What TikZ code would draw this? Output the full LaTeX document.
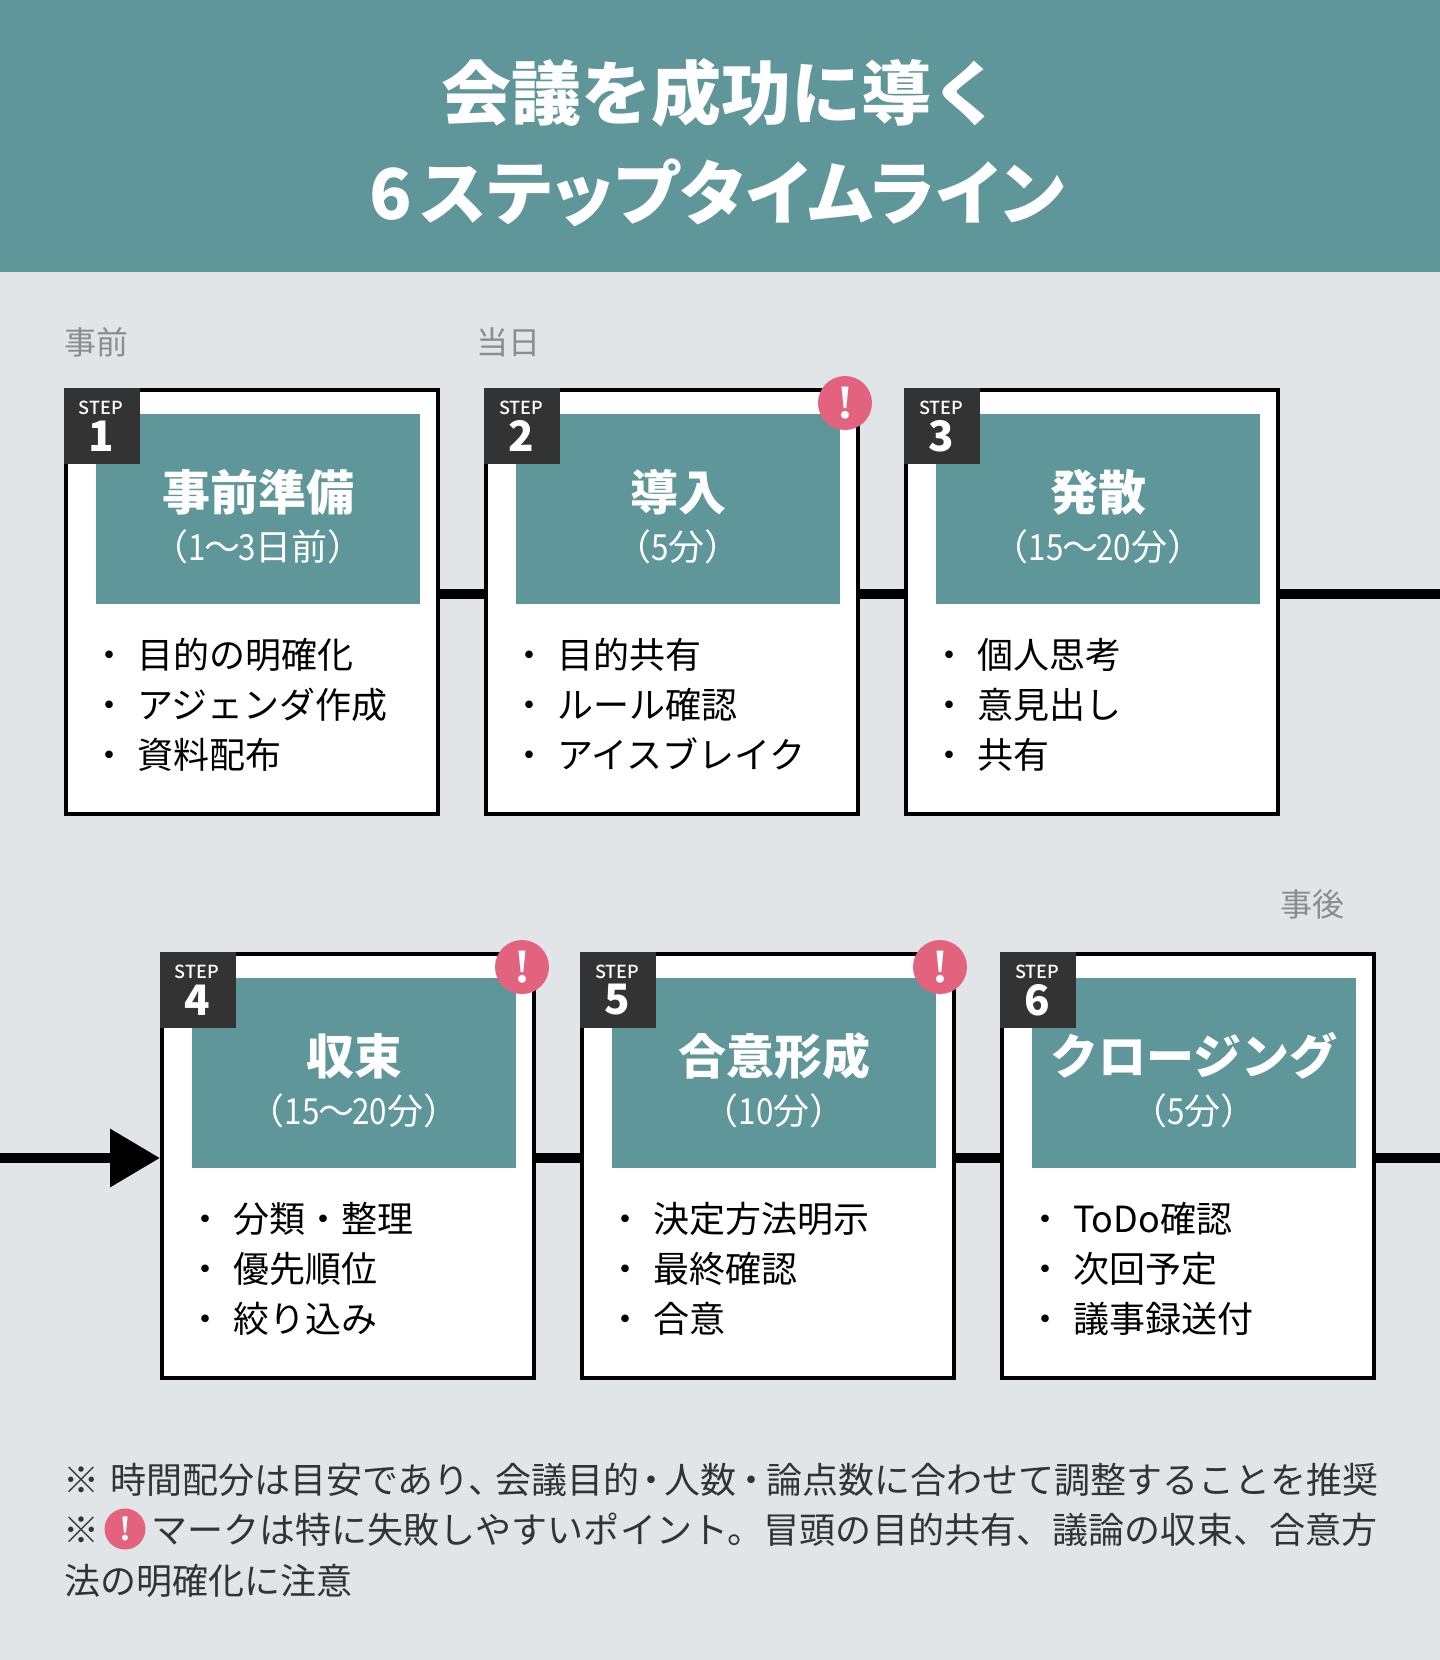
\documentclass[tikz,border=0pt]{standalone}
\usepackage{fontspec}
\usepackage{graphicx}
\setmainfont{Noto Sans CJK JP}
\newfontfamily\medfont{Noto Sans CJK JP Medium}
\newfontfamily\markfont{Liberation Serif}
\usetikzlibrary{arrows.meta}
\definecolor{teal1}{HTML}{5E9699}
\definecolor{bgc}{HTML}{E1E5E8}
\definecolor{darkc}{HTML}{333333}
\definecolor{pinkc}{HTML}{E3637F}
\definecolor{grayc}{HTML}{8C8C8C}
\newcommand{\px}[1]{\fontsize{#1pt}{#1pt}\selectfont}
\newcommand{\nd}[1]{\scalebox{.87}[1]{#1}}
\newcommand{\wv}{\kern-.04em〜\kern-.04em}
\tikzset{
  every node/.style={inner sep=0pt,outer sep=0pt},
  cardbox/.style={draw=black,line width=2pt,outer sep=1pt,fill=white,minimum width=186pt,minimum height=212pt,anchor=north west},
  badgebox/.style={fill=darkc,minimum width=38pt,minimum height=38pt,anchor=north west},
  bandbox/.style={fill=teal1,minimum width=162pt,minimum height=95pt,anchor=north west},
  steplab/.style={text=white,font=\px{9}\medfont},
  stepnum/.style={text=white,font=\px{21}\bfseries},
  cardtitle/.style={text=white,font=\px{24}\bfseries},
  cardsub/.style={text=white,font=\px{18}},
  listtext/.style={text=black,font=\px{18},anchor=base west},
  listdot/.style={text=black,font=\px{18},anchor=base},
  phase/.style={text=grayc,font=\px{16},anchor=west},
  alert/.style={circle,fill=pinkc,minimum size=27pt,text=white,font=\px{24}\markfont\bfseries},
  alertsmall/.style={circle,fill=pinkc,minimum size=20.5pt,text=white,font=\px{18}\markfont\bfseries},
  foot/.style={text=darkc,font=\px{18},anchor=west},
  headtext/.style={text=white,font=\px{35}\bfseries},
  conn/.style={draw=black,line width=5pt},
}
\newcommand{\stepcard}[8]{%
  \begin{scope}[shift={(#2,#3)}]
    \node[cardbox] (card#1) at (0,0) {};
    \node[bandbox] (band#1) at (32,26) {};
    \node[badgebox] (badge#1) at (0,0) {};
    \node[steplab] (steplab#1) at (37,19.5) {STEP};
    \node[stepnum] (stepnum#1) at (37,48) {#1};
    \node[cardtitle] (title#1) at (194,104) {#4};
    \node[cardsub] (sub#1) at (194,159) {#5};
    \node[listdot] (a#1) at (45,280) {・};
    \node[listdot] (b#1) at (45,330) {・};
    \node[listdot] (c#1) at (45,380) {・};
    \node[listtext] (la#1) at (73,280) {#6};
    \node[listtext] (lb#1) at (73,330) {#7};
    \node[listtext] (lc#1) at (73,380) {#8};
  \end{scope}}
\begin{document}
\begin{tikzpicture}[x=0.5pt,y=-0.5pt]
\useasboundingbox (0,0) rectangle (1440,1660);
\fill[bgc] (0,0) rectangle (1440,1660);
\fill[teal1] (0,0) rectangle (1440,272);
\node[headtext] (h1) at (721,93) {会議を成功に導く};
\node[headtext] (h2) at (717,193) {\addfontfeature{RawFeature=+palt,LetterSpace=2}6\kern.12em ステップタイムライン};
\node[phase] (p1) at (64,342) {事前};
\node[phase] (p2) at (476,342) {当日};
\node[phase] (p3) at (1280,904) {事後};
\coordinate (row1) at (0,594);
\coordinate (row2) at (0,1158);
\coordinate (outR1) at (1440,594);
\coordinate (outR2) at (1440,1158);
\stepcard{1}{64}{388}{事前準備}{（\nd{1}\wv\nd{3}日前）}{目的の明確化}{アジェンダ作成}{資料配布}
\stepcard{2}{484}{388}{導入}{（\nd{5}分）}{目的共有}{ルール確認}{アイスブレイク}
\stepcard{3}{904}{388}{発散}{（\nd{15}\wv\nd{20}分）}{個人思考}{意見出し}{共有}
\stepcard{4}{160}{952}{収束}{（\nd{15}\wv\nd{20}分）}{分類・整理}{優先順位}{絞り込み}
\stepcard{5}{580}{952}{合意形成}{（\nd{10}分）}{決定方法明示}{最終確認}{合意}
\stepcard{6}{1000}{952}{クロージング}{（\nd{5}分）}{ToDo確認}{次回予定}{議事録送付}
\draw[conn] (card1.east |- row1) -- (card2.west |- row1);
\draw[conn] (card2.east |- row1) -- (card3.west |- row1);
\draw[conn] (card3.east |- row1) -- (outR1);
\draw[conn,-{Triangle[length=25pt,width=28pt]}] (row2) -- (card4.west |- row2);
\draw[conn] (card4.east |- row2) -- (card5.west |- row2);
\draw[conn] (card5.east |- row2) -- (card6.west |- row2);
\draw[conn] (card6.east |- row2) -- (outR2);
\node[alert] (w2) at (845,403) {!};
\node[alert] (w4) at (522,967) {!};
\node[alert] (w5) at (940,967) {!};
\node[foot] (f1) at (63,1480) {※\kern1.5pt{} 時間配分は目安であり、\kern-.25em会議目的\kern-.15em・\kern-.15em人数\kern-.08em・\kern-.1em論点数に合わせて調整することを推奨};
\node[foot] (f2a) at (63,1530) {※};
\node[alertsmall] (w0) at (125,1529) {!};
\node[foot] (f2b) at (151,1530) {\addfontfeature{LetterSpace=0.3}マークは特に失敗しやすいポイント。冒頭の目的共有、議論の収束、合意方};
\node[foot] (f3) at (64,1581) {法の明確化に注意};
\end{tikzpicture}
\end{document}
